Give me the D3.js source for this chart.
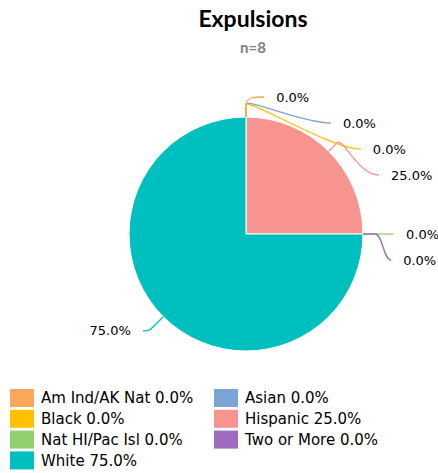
<!DOCTYPE html>
<html><head><meta charset="utf-8">
<script src="https://cdn.jsdelivr.net/npm/d3@7"></script>
<style>body{margin:0;background:#fff}svg{display:block}</style>
</head><body>
<svg id="c" width="438" height="473"></svg>
<script>
const title = "Expulsions";
const subtitle = "n=8";
const categories = ["Am Ind/AK Nat","Asian","Black","Hispanic","Nat HI/Pac Isl","Two or More","White"];
const values = [0, 0, 0, 25.0, 0, 0, 75.0];
const colors = ["#F9A85B","#7BA3D4","#FFC000","#F79490","#92D06F","#9E6BC0","#00BFBF"];

const svg = d3.select("#c");
const cx = 246, cy = 234, R = 117;
const font = "DejaVu Sans, Verdana, sans-serif";

svg.append("text").attr("x", 253).attr("y", 27).attr("text-anchor","middle")
  .attr("font-family","Lato, 'Open Sans', sans-serif").attr("font-weight","bold")
  .attr("font-size", 23).attr("fill","#000").text(title);
svg.append("text").attr("x", 253).attr("y", 53).attr("text-anchor","middle")
  .attr("font-family","Lato, 'Open Sans', sans-serif").attr("font-weight","bold")
  .attr("font-size", 15).attr("fill","#7f7f7f").text(subtitle);

const data = categories.map((c,i)=>({cat:c, value:values[i], color:colors[i]}));
const pie = d3.pie().sort(null).value(d=>d.value);
const arcs = pie(data);
const arc = d3.arc().innerRadius(0).outerRadius(R);
const g = svg.append("g").attr("transform",`translate(${cx},${cy})`);

g.selectAll("path.slice").data(arcs).join("path").attr("class","slice")
  .attr("d", arc).attr("fill", d=>d.data.color)
  .attr("stroke","#fff").attr("stroke-width", d=>d.value>0?1:0);

// label layout on an ellipse, pushed apart vertically
const Rx = 160, Ry = 137, RyX = 139.5, gap = 26;
const labs = arcs.map(a=>{
  const m = (a.startAngle+a.endAngle)/2;
  return {a, m, side: Math.sin(m) >= -1e-6 ? 1 : -1, y: -Ry*Math.cos(m)};
});
[1,-1].forEach(s=>{
  const grp = labs.filter(l=>l.side===s).sort((p,q)=>p.y-q.y || p.a.index-q.a.index);
  for(let i=1;i<grp.length;i++) if(grp[i].y < grp[i-1].y+gap) grp[i].y = grp[i-1].y+gap;
});
labs.forEach(l=>{
  const t = Math.max(0, 1 - (l.y*l.y)/(RyX*RyX));
  l.x = l.side*Rx*Math.sqrt(t);
});

const fmt = v => v.toFixed(1)+"%";
labs.forEach(l=>{
  const m = l.m;
  const sx = R*Math.sin(m), sy = -R*Math.cos(m);
  const ex0 = (R+12)*Math.sin(m), ey0 = -(R+12)*Math.cos(m);
  const tx = l.x - l.side*12, ty = l.y;
  const p = d3.path();
  p.moveTo(sx, sy);
  p.lineTo(ex0, ey0);
  const c1x = ex0 + 8*Math.sin(m), c1y = ey0 - 8*Math.cos(m);
  const c2x = tx - l.side*Math.min(30, Math.abs(tx-ex0)*0.5), c2y = ty;
  p.bezierCurveTo(c1x, c1y, c2x, c2y, tx, ty);
  g.append("path").attr("d", p.toString()).attr("fill","none")
    .attr("stroke", l.a.data.color).attr("stroke-width", 1.3);
  g.append("text").attr("x", l.x).attr("y", ty).attr("dy","0.35em")
    .attr("text-anchor", l.side>0?"start":"end")
    .attr("font-family", font).attr("font-size", 13).attr("fill","#000")
    .text(fmt(l.a.data.value));
});

// legend
const colX = [10, 214], rowY0 = 389, rowH = 20.8;
const lg = svg.append("g");
data.forEach((d,i)=>{
  const col = i===6 ? 0 : i%2, row = Math.floor(i/2);
  const x = colX[col], y = rowY0 + row*rowH;
  lg.append("rect").attr("x",x).attr("y",y).attr("width",24).attr("height",18).attr("fill",d.color);
  lg.append("text").attr("x",x+31).attr("y",y+9).attr("dy","0.36em")
    .attr("font-family",font).attr("font-size",15).attr("fill","#000")
    .text(d.cat+" "+fmt(d.value));
});
</script>
</body></html>
